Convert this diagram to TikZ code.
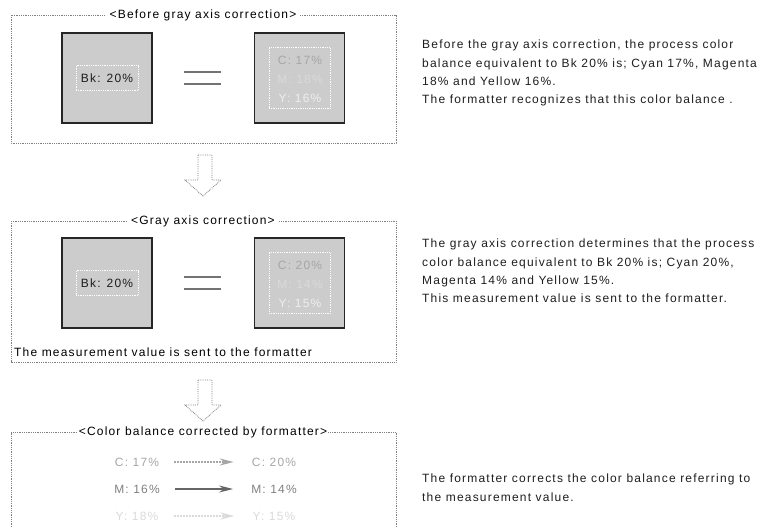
\documentclass[tikz,border=0pt]{standalone}
\usepackage{fontspec}
\setmainfont{Liberation Sans}
\newfontfamily\labelfont[LetterSpace=10]{Liberation Sans}
\newfontfamily\notefont[LetterSpace=10]{Liberation Sans}
\usetikzlibrary{arrows.meta,positioning}

\definecolor{boxgray}{HTML}{CCCCCC}
\definecolor{textgray}{HTML}{1E1E1E}
\definecolor{cyangray}{HTML}{A6A6A6}
\definecolor{magentagray}{HTML}{DADADA}
\definecolor{yellowgray}{HTML}{EEEEEE}

\begin{document}
\begin{tikzpicture}[x=1pt,y=-1pt]
\tikzstyle{every node}+=[inner sep=0pt, text=textgray, font=\labelfont\fontsize{12}{18.5}\selectfont]
\tikzstyle{frame}=[draw=gray, densely dotted, line width=0.8pt]
\tikzstyle{heading}=[fill=white, inner xsep=4pt, inner ysep=1pt, text=black]
\tikzstyle{square}=[draw=black!85, line width=1.6pt, fill=boxgray, minimum size=90pt]
\tikzstyle{valbox}=[draw=white, densely dotted, line width=0.8pt]
\tikzstyle{eqline}=[draw=gray!90!black, line width=2.6pt]
\tikzstyle{bigarrow}=[draw=gray, densely dotted, line width=0.8pt, fill=white]
\tikzstyle{shiftarrow}=[line width=2pt, -{Stealth[length=14pt,width=7pt]}, shorten <=15pt, shorten >=18pt]
\tikzstyle{note}=[anchor=north west, align=left, font=\notefont\fontsize{12}{18.2}\selectfont]
\useasboundingbox (0,0) rectangle (765,527);

% panel 1
\draw [frame] (11,15) rectangle (396,143);
\node [heading] (t1) at (203,15) {<Before gray axis correction>};
\node [square] (bk1) at (107,78) {};
\node [valbox, minimum width=62pt, minimum height=25pt] (bk1v) at (bk1) {Bk: 20\%};
\draw [eqline] (184,72) -- (221,72);
\draw [eqline] (184,84) -- (221,84);
\node [square] (cmy1) at (299.5,78) {};
\node [valbox, minimum size=61pt] (cmy1v) at (cmy1) {};
\node [text=cyangray] (c1) at (300,60) {C: 17\%};
\node [text=magentagray] (m1) at (300,79) {M: 18\%};
\node [text=yellowgray] (y1) at (300,98) {Y: 16\%};

% arrow 1
\draw [bigarrow] (198,155) -- (212,155) -- (212,180) -- (221,180) -- (203,196)
  -- (185,180) -- (198,180) -- cycle;

% panel 2
\draw [frame] (11,221) rectangle (396,362);
\node [heading] (t2) at (203,221) {<Gray axis correction>};
\node [square] (bk2) at (107,283) {};
\node [valbox, minimum width=62pt, minimum height=25pt] (bk2v) at (bk2) {Bk: 20\%};
\draw [eqline] (184,277) -- (221,277);
\draw [eqline] (184,289) -- (221,289);
\node [square] (cmy2) at (299.5,283) {};
\node [valbox, minimum size=61pt] (cmy2v) at (cmy2) {};
\node [text=cyangray] (c2) at (300,265) {C: 20\%};
\node [text=magentagray] (m2) at (300,284) {M: 14\%};
\node [text=yellowgray] (y2) at (300,303) {Y: 15\%};
\node [anchor=west, text=black] (send) at (14,352) {The measurement value is sent to the formatter};

% arrow 2
\draw [bigarrow] (198,380) -- (212,380) -- (212,405) -- (221,405) -- (203,421)
  -- (185,405) -- (198,405) -- cycle;

% panel 3
\draw [frame] (11,527) -- (11,432) -- (396,432) -- (396,527);
\node [heading, inner xsep=1pt] (t3) at (203,432) {<Color balance corrected by formatter>};
\node [text=cyangray] (c3a) at (137,462) {C: 17\%};
\node [text=cyangray] (c3b) at (274,462) {C: 20\%};
\node [text=gray] (m3a) at (137,489) {M: 16\%};
\node [text=gray] (m3b) at (274,489) {M: 14\%};
\node [text=magentagray] (y3a) at (137,516) {Y: 18\%};
\node [text=magentagray] (y3b) at (274,516) {Y: 15\%};
\draw [shiftarrow, draw=cyangray, densely dotted] (c3a) -- (c3b);
\draw [shiftarrow, draw=gray!80!black] (m3a) -- (m3b);
\draw [shiftarrow, draw=magentagray, densely dotted] (y3a) -- (y3b);

% notes on the right
\node [note] (n1) at (422,40) {Before the gray axis correction, the process color\\
balance equivalent to Bk 20\% is; Cyan 17\%, Magenta\\
18\% and Yellow 16\%.\\
The formatter recognizes that this color balance .};
\node [note] (n2) at (422,239) {The gray axis correction determines that the process\\
color balance equivalent to Bk 20\% is; Cyan 20\%,\\
Magenta 14\% and Yellow 15\%.\\
This measurement value is sent to the formatter.};
\node [note] (n3) at (422,474) {The formatter corrects the color balance referring to\\
the measurement value.};
\end{tikzpicture}
\end{document}
